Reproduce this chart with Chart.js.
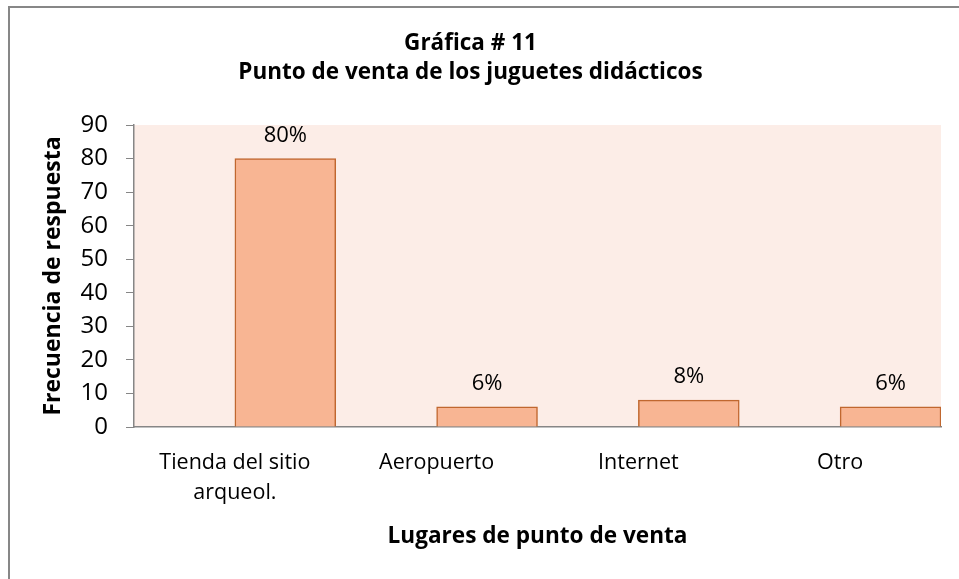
<!DOCTYPE html>
<html>
<head>
<meta charset="utf-8">
<script src="https://cdn.jsdelivr.net/npm/chart.js@4"></script>
<style>
  body { margin: 0; background: #fff; }
</style>
</head>
<body>
<canvas id="chart" width="959" height="579"></canvas>
<script>
// data
const categories = [['Tienda del sitio', 'arqueol.'], 'Aeropuerto', 'Internet', 'Otro'];
const values = [80, 6, 8, 6];
const pctLabels = ['80%', '6%', '8%', '6%'];
const yTicks = [0, 10, 20, 30, 40, 50, 60, 70, 80, 90];

const axisGray = '#868686';
const fontFamily = '"Open Sans", "Noto Sans", sans-serif';

// frame lines and the peach plot background
const backdrop = {
    id: 'backdrop',
    beforeDraw(chart) {
        const ctx = chart.ctx;
        const a = chart.chartArea;
        ctx.save();
        ctx.fillStyle = '#fcede7';
        ctx.fillRect(a.left, a.top, a.right - a.left, a.bottom - a.top);
        ctx.strokeStyle = '#878787';
        ctx.lineWidth = 2;
        ctx.beginPath();
        ctx.moveTo(9, 579);
        ctx.lineTo(9, 7);
        ctx.lineTo(959, 7);
        ctx.stroke();
        ctx.restore();
    }
};

// percentage labels above the bars
const barLabels = {
    id: 'barLabels',
    afterDatasetsDraw(chart) {
        const ctx = chart.ctx;
        const meta = chart.getDatasetMeta(1);
        ctx.save();
        ctx.font = '22px ' + fontFamily;
        ctx.fillStyle = '#000';
        ctx.textAlign = 'center';
        ctx.textBaseline = 'alphabetic';
        meta.data.forEach((bar, i) => {
            ctx.fillText(pctLabels[i], bar.x, bar.y - 17);
        });
        ctx.restore();
    }
};

const ctx = document.getElementById('chart').getContext('2d');
new Chart(ctx, {
    type: 'bar',
    data: {
        labels: categories,
        datasets: [
            {
                label: 'vacío',
                data: values.map(() => null)
            },
            {
                label: 'Frecuencia',
                data: values,
                backgroundColor: '#f8b593',
                borderColor: '#c0672f',
                borderWidth: 1.5
            }
        ]
    },
    options: {
        responsive: false,
        animation: false,
        datasets: {
            bar: { categoryPercentage: 1.0, barPercentage: 1.0 }
        },
        layout: {
            autoPadding: false,
            padding: { top: 0, right: 18, bottom: 0, left: 0 }
        },
        plugins: {
            legend: { display: false },
            tooltip: { enabled: false },
            title: {
                display: true,
                text: ['Gráfica # 11', 'Punto de venta de los juguetes didácticos'],
                color: '#000',
                font: { family: fontFamily, size: 22.5, weight: 'bold', lineHeight: 1.29 },
                padding: { top: 29.5, bottom: 37.5 }
            }
        },
        scales: {
            x: {
                grid: { display: false },
                border: { display: true, color: axisGray, width: 1.5 },
                ticks: {
                    color: '#000',
                    padding: 13,
                    maxRotation: 0,
                    font: { family: fontFamily, size: 21.5, lineHeight: 1.4 }
                },
                title: {
                    display: true,
                    text: 'Lugares de punto de venta',
                    color: '#000',
                    font: { family: fontFamily, size: 22.6, weight: 'bold', lineHeight: 1.2 },
                    padding: { top: 0, bottom: 28.5 }
                },
                afterFit(scale) { scale.height = 152; }
            },
            y: {
                min: 0,
                max: 90,
                afterBuildTicks(scale) {
                    scale.ticks = yTicks.map(v => ({ value: v }));
                },
                grid: {
                    display: true,
                    drawOnChartArea: false,
                    drawTicks: true,
                    tickLength: 8,
                    color: axisGray
                },
                border: { display: true, color: axisGray, width: 1.5 },
                ticks: {
                    color: '#000',
                    padding: 18,
                    font: { family: fontFamily, size: 24 }
                },
                title: {
                    display: true,
                    text: 'Frecuencia de respuesta',
                    color: '#000',
                    font: { family: fontFamily, size: 23, weight: 'bold', lineHeight: 1.2 },
                    padding: { top: 40, bottom: 0 }
                },
                afterFit(scale) { scale.width = 134; }
            }
        }
    },
    plugins: [backdrop, barLabels]
});
</script>
</body>
</html>
